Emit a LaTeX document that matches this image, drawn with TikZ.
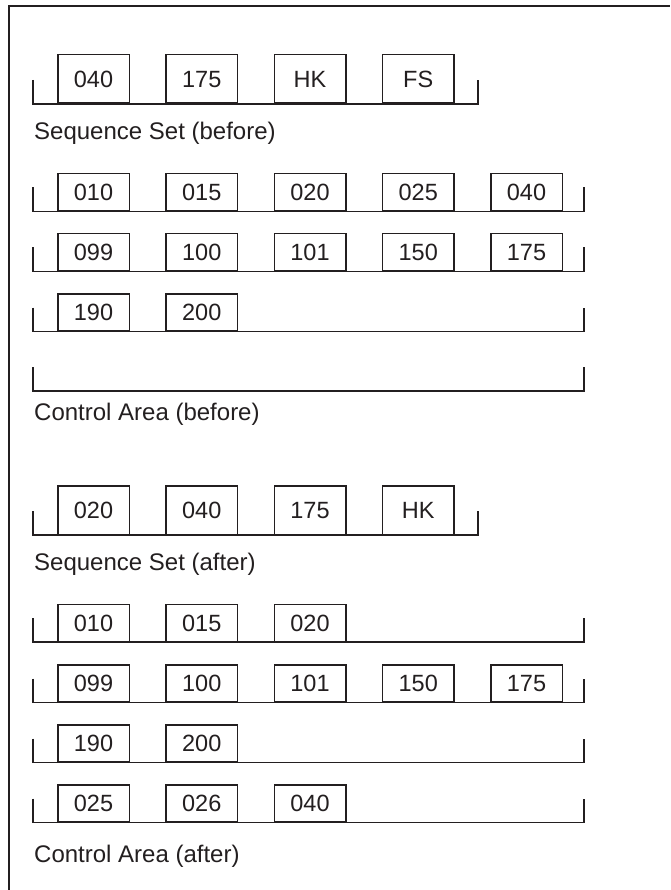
\documentclass[tikz,border=0pt]{standalone}
\usepackage{fontspec}
\setmainfont{Liberation Sans}
\definecolor{ink}{HTML}{231F20}
\newcommand\mkrow[5]{%
  \coordinate (#1-lt) at (33,#2-24);
  \coordinate (#1-lb) at (33,#2);
  \coordinate (#1-rb) at (#4,#2);
  \coordinate (#1-rt) at (#4,#2-24);
  \draw[rowline] (#1-lt) -- (#1-lb) -- (#1-rb) -- (#1-rt);
  \foreach \t [count=\i from 0] in {#5} {\node[#3] (#1-\i) at ({57+108.25*\i},#2) {\t};}
}
\begin{document}
\begin{tikzpicture}[x=1pt,y=-1pt,
  rowline/.style={draw=ink, line width=1.5pt},
  rec/.style={draw=ink, line width=1.5pt, fill=white, minimum width=71.5pt, inner sep=0pt, text height=17pt, text depth=0pt, anchor=south west, font=\fontsize{23.5}{28}\selectfont, text=ink},
  tallbox/.style={rec, minimum height=48.5pt},
  shortbox/.style={rec, minimum height=37pt},
  lbl/.style={anchor=base west, inner sep=0pt, font=\fontsize{24}{28}\selectfont, text=ink}]
\useasboundingbox (0,0) rectangle (670,890);
\coordinate (fbl) at (9,890);
\coordinate (ftl) at (9,6);
\coordinate (ftr) at (670,6);
\draw[draw=ink, line width=1.8pt] (fbl) -- (ftl) -- (ftr);
% Sequence set (before)
\mkrow{sb}{104}{tallbox}{478}{040,175,HK,FS}
\node[lbl] (lsb) at (34,140) {Sequence Set (before)};
% Control area (before)
\mkrow{cb1}{211.5}{shortbox}{584}{010,015,020,025,040}
\mkrow{cb2}{271.5}{shortbox}{584}{099,100,101,150,175}
\mkrow{cb3}{331.5}{shortbox}{584}{190,200}
\mkrow{cb4}{391}{shortbox}{584}{}
\node[lbl] (lcb) at (34,420) {Control Area (before)};
% Sequence set (after)
\mkrow{sa}{535}{tallbox}{478}{020,040,175,HK}
\node[lbl] (lsa) at (34,570) {Sequence Set (after)};
% Control area (after)
\mkrow{ca1}{642}{shortbox}{584}{010,015,020}
\mkrow{ca2}{702.5}{shortbox}{584}{099,100,101,150,175}
\mkrow{ca3}{762.5}{shortbox}{584}{190,200}
\mkrow{ca4}{822.5}{shortbox}{584}{025,026,040}
\node[lbl] (lca) at (34,862) {Control Area (after)};
\end{tikzpicture}
\end{document}
